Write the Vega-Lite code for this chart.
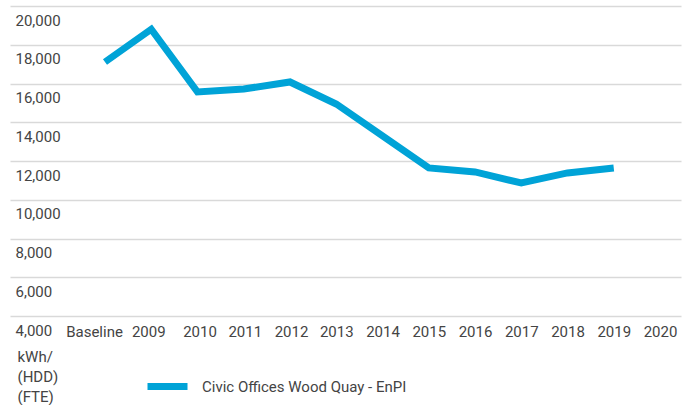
{
  "$schema": "https://vega.github.io/schema/vega-lite/v6.json",
  "width": 671,
  "height": 310,
  "autosize": {"type": "none"},
  "padding": {"left": 10, "top": 6, "right": 8, "bottom": 89},
  "config": {"view": {"stroke": null}, "font": "Roboto"},
  "data": {
    "values": [
      {"period": "Baseline", "year": 2008, "enpi": 17110},
      {"period": "2009", "year": 2009, "enpi": 18800},
      {"period": "2010", "year": 2010, "enpi": 15562},
      {"period": "2011", "year": 2011, "enpi": 15717},
      {"period": "2012", "year": 2012, "enpi": 16078},
      {"period": "2013", "year": 2013, "enpi": 14943},
      {"period": "2014", "year": 2014, "enpi": 13292},
      {"period": "2015", "year": 2015, "enpi": 11641},
      {"period": "2016", "year": 2016, "enpi": 11434},
      {"period": "2017", "year": 2017, "enpi": 10867},
      {"period": "2018", "year": 2018, "enpi": 11383},
      {"period": "2019", "year": 2019, "enpi": 11641},
      {"period": "2020", "year": 2020, "enpi": null}
    ]
  },
  "mark": {"type": "line", "strokeWidth": 7, "strokeJoin": "miter", "strokeCap": "butt"},
  "encoding": {
    "x": {
      "field": "year",
      "type": "quantitative",
      "scale": {"domain": [2005.946, 2020.454], "nice": false, "zero": false},
      "axis": {
        "title": null,
        "values": [2008, 2009, 2010, 2011, 2012, 2013, 2014, 2015, 2016, 2017, 2018, 2019, 2020],
        "labelExpr": "datum.value === 2008 ? 'Baseline' : format(datum.value, 'd')",
        "labelAngle": 0,
        "labelFlush": false,
        "labelOverlap": false,
        "ticks": false,
        "tickSize": 0,
        "domain": false,
        "grid": false,
        "labelFontSize": 15,
        "labelColor": "#444444",
        "labelPadding": 8,
        "labelOffset": {"condition": [
          {"test": "datum.value === 2008", "value": -11},
          {"test": "datum.value === 2009", "value": -3},
          {"test": "datum.value === 2010", "value": 2},
          {"test": "datum.value === 2011 || datum.value === 2012", "value": 1}
        ], "value": 0}
      }
    },
    "y": {
      "field": "enpi",
      "type": "quantitative",
      "scale": {"domain": [4000, 20000], "nice": false},
      "axis": {
        "values": [4000, 6000, 8000, 10000, 12000, 14000, 16000, 18000, 20000],
        "format": ",.0f",
        "ticks": false,
        "tickSize": 0,
        "domain": false,
        "labelAlign": "left",
        "labelPadding": -5,
        "labelBaseline": "top",
        "labelOffset": 7,
        "labelFontSize": 15,
        "labelColor": "#444444",
        "gridColor": "#d9d9d9",
        "gridWidth": 1.5,
        "title": ["kWh/", "(HDD)", "(FTE)"],
        "titleAngle": 0,
        "titleAlign": "left",
        "titleBaseline": "top",
        "titleX": 7,
        "titleY": 343,
        "titleFontSize": 15,
        "titleFontWeight": "normal",
        "titleColor": "#444444",
        "titleLineHeight": 20
      }
    },
    "color": {
      "datum": "Civic Offices Wood Quay - EnPI",
      "type": "nominal",
      "scale": {"range": ["#00a3d7"]},
      "legend": {
        "title": null,
        "orient": "none",
        "legendX": 134,
        "legendY": 357,
        "padding": 0,
        "symbolType": "stroke",
        "symbolSize": 1600,
        "symbolStrokeWidth": 7,
        "labelFontSize": 15,
        "labelColor": "#444444",
        "labelOffset": 11,
        "labelLimit": 0
      }
    }
  }
}
